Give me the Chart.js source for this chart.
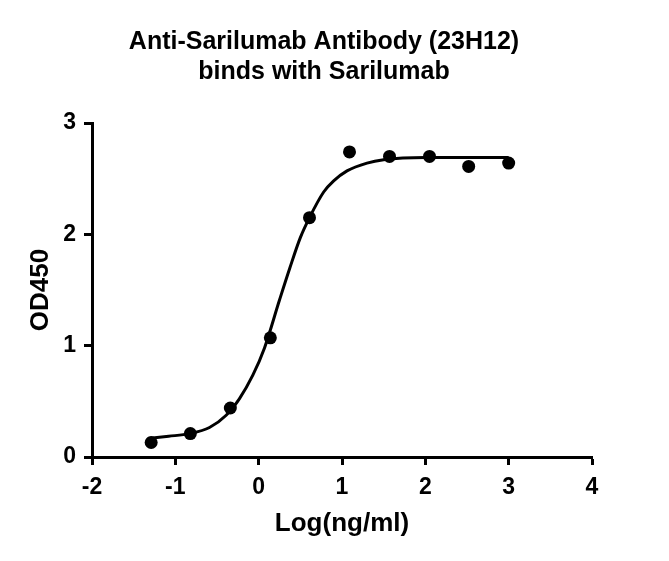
<!DOCTYPE html>
<html>
<head>
<meta charset="utf-8">
<title>Anti-Sarilumab Antibody (23H12) binds with Sarilumab</title>
<script src="https://cdn.jsdelivr.net/npm/chart.js@4.4.1/dist/chart.umd.min.js"></script>
<style>
    html, body { margin: 0; padding: 0; background: #fff; }
    #wrap { width: 669px; height: 561px; position: relative; }
</style>
</head>
<body>
<div id="wrap"><canvas id="elisaChart"></canvas></div>
<script>
// Measured points: log10 of concentration (ng/ml) vs OD450
const logConc = [-1.29, -0.82, -0.34, 0.14, 0.61, 1.09, 1.57, 2.05, 2.52, 3.00];
const od450 = [0.13, 0.21, 0.44, 1.07, 2.15, 2.74, 2.70, 2.70, 2.61, 2.64];

// Fitted curve at a handful of x positions
const curveX = [-1.33, -1.08, -0.83, -0.59, -0.39, -0.23, -0.07, 0.07, 0.25, 0.375, 0.50, 0.61, 0.78, 0.90, 1.06, 1.30, 1.50, 2.00, 2.50, 3.00];
const curveY = [0.165, 0.186, 0.21, 0.265, 0.375, 0.525, 0.735, 0.98, 1.41, 1.70, 1.97, 2.15, 2.38, 2.48, 2.57, 2.64, 2.67, 2.69, 2.69, 2.69];

// Axis ticks
const xTicks = [-2, -1, 0, 1, 2, 3, 4];
const yTicks = [0, 1, 2, 3];

const chartTitle = ['Anti-Sarilumab Antibody (23H12)', 'binds with Sarilumab'];
const xLabel = 'Log(ng/ml)';
const yLabel = 'OD450';

document.addEventListener('DOMContentLoaded', function() {
    const fontFamily = "'Liberation Sans', Arial, Helvetica, sans-serif";

    const pointData = logConc.map((x, i) => ({ x: x, y: od450[i] }));
    const curveData = curveX.map((x, i) => ({ x: x, y: curveY[i] }));

    // Prism centres the title a bit right of the plot, so draw it ourselves
    const titlePlugin = {
        id: 'centredTitle',
        afterDraw(chart) {
            const c = chart.ctx;
            c.save();
            c.fillStyle = '#000';
            c.font = 'bold 25px ' + fontFamily;
            c.textAlign = 'center';
            c.textBaseline = 'middle';
            chartTitle.forEach((line, i) => {
                c.fillText(line, 324, 42 + i * 30);
            });
            c.restore();
        }
    };

    const ctx = document.getElementById('elisaChart').getContext('2d');
    new Chart(ctx, {
        type: 'scatter',
        data: {
            datasets: [
                {
                    label: 'fit',
                    data: curveData,
                    showLine: true,
                    borderColor: '#000',
                    borderWidth: 3,
                    pointRadius: 0,
                    cubicInterpolationMode: 'monotone',
                    fill: false,
                    order: 2
                },
                {
                    label: 'OD450',
                    data: pointData,
                    showLine: false,
                    backgroundColor: '#000',
                    borderColor: '#000',
                    pointRadius: 6.5,
                    pointBorderWidth: 0,
                    order: 1
                }
            ]
        },
        plugins: [titlePlugin],
        options: {
            responsive: true,
            maintainAspectRatio: false,
            animation: false,
            layout: {
                padding: { left: 0, right: 77, top: 123, bottom: 0 }
            },
            plugins: {
                legend: { display: false },
                tooltip: { enabled: false },
                title: { display: false }
            },
            scales: {
                x: {
                    type: 'linear',
                    min: xTicks[0],
                    max: xTicks[xTicks.length - 1],
                    afterFit: function(scale) { scale.height = 104; },
                    afterBuildTicks: function(scale) {
                        scale.ticks = xTicks.map(v => ({ value: v }));
                    },
                    ticks: {
                        color: '#000',
                        padding: 9,
                        font: { family: fontFamily, size: 23, weight: 'bold' }
                    },
                    grid: {
                        drawOnChartArea: false,
                        drawTicks: true,
                        tickLength: 8,
                        tickWidth: 3,
                        tickColor: '#000'
                    },
                    border: { display: true, color: '#000', width: 3 },
                    title: {
                        display: true,
                        text: xLabel,
                        color: '#000',
                        font: { family: fontFamily, size: 26, weight: 'bold', lineHeight: 1.2 },
                        padding: { top: 0, bottom: 22 }
                    }
                },
                y: {
                    type: 'linear',
                    min: yTicks[0],
                    max: yTicks[yTicks.length - 1],
                    afterFit: function(scale) { scale.width = 92; },
                    afterBuildTicks: function(scale) {
                        scale.ticks = yTicks.map(v => ({ value: v }));
                    },
                    ticks: {
                        color: '#000',
                        padding: 8,
                        font: { family: fontFamily, size: 23, weight: 'bold' }
                    },
                    grid: {
                        drawOnChartArea: false,
                        drawTicks: true,
                        tickLength: 8,
                        tickWidth: 3,
                        tickColor: '#000'
                    },
                    border: { display: true, color: '#000', width: 3 },
                    title: {
                        display: true,
                        text: yLabel,
                        color: '#000',
                        font: { family: fontFamily, size: 26, weight: 'bold', lineHeight: 1.2 },
                        padding: { top: 25, bottom: 0 }
                    }
                }
            }
        }
    });
});
</script>
</body>
</html>
